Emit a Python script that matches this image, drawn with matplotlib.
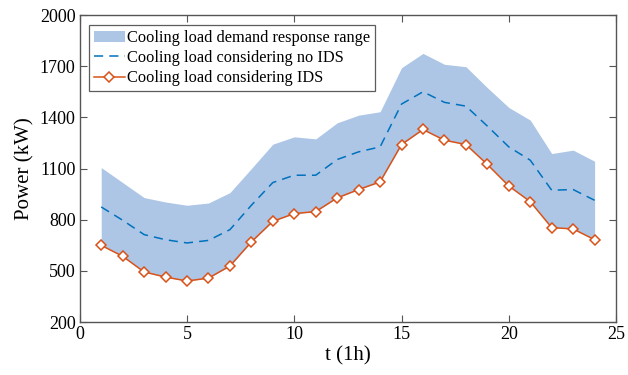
import numpy as np
import matplotlib
matplotlib.use('Agg')
import matplotlib.pyplot as plt

plt.rcParams['font.family'] = ['Liberation Serif', 'DejaVu Serif']

# Data
hours = np.arange(1, 25)
upper = [1106, 1018, 930, 904, 885, 898, 959, 1100, 1243, 1286, 1274, 1368,
         1413, 1433, 1691, 1775, 1711, 1697, 1574, 1458, 1384, 1188, 1208, 1143]
no_ids = [875, 797, 713, 683, 664, 679, 742, 885, 1018, 1061, 1061, 1153,
          1198, 1227, 1478, 1550, 1488, 1466, 1349, 1227, 1149, 973, 977, 914]
ids = [650, 586, 494, 464, 441, 458, 529, 670, 791, 836, 848, 928,
       977, 1022, 1241, 1329, 1266, 1241, 1124, 998, 906, 754, 746, 683]

fig = plt.figure(figsize=(6.28, 3.75), dpi=100)
ax = fig.add_axes([0.127, 0.141, 0.854, 0.819])

ax.fill_between(hours, ids, upper, color='#adc6e6', linewidth=0,
                label='Cooling load demand response range')
ax.plot(hours, no_ids, color='#0072BD', linestyle=(0, (6, 4)), linewidth=1.1,
        label='Cooling load considering no IDS')
ax.plot(hours, ids, color='#D95319', linewidth=1.1, marker='D', markersize=5.5,
        markerfacecolor='white', markeredgecolor='#D95319', markeredgewidth=1.1,
        label='Cooling load considering IDS')

ax.set_xlim(0, 25)
ax.set_ylim(200, 2000)
ax.set_xticks([0, 5, 10, 15, 20, 25])
ax.set_yticks([200, 500, 800, 1100, 1400, 1700, 2000])
ax.tick_params(direction='in', top=True, right=True, labelsize=13, length=5,
               color='#555555', pad=3)
for s in ax.spines.values():
    s.set_color('#555555')
    s.set_linewidth(1.0)

ax.set_xlabel('t (1h)', fontsize=15, labelpad=2)
ax.set_ylabel('Power (kW)', fontsize=15, labelpad=4)

leg = ax.legend(loc='upper left', bbox_to_anchor=(0.017, 0.967), fontsize=11.8,
                frameon=True, fancybox=False, edgecolor='#333333',
                borderpad=0.3, labelspacing=0.25, handlelength=1.9,
                handletextpad=0.15, borderaxespad=0)
leg.get_frame().set_linewidth(0.9)

fig.savefig('out.png', dpi=100)
